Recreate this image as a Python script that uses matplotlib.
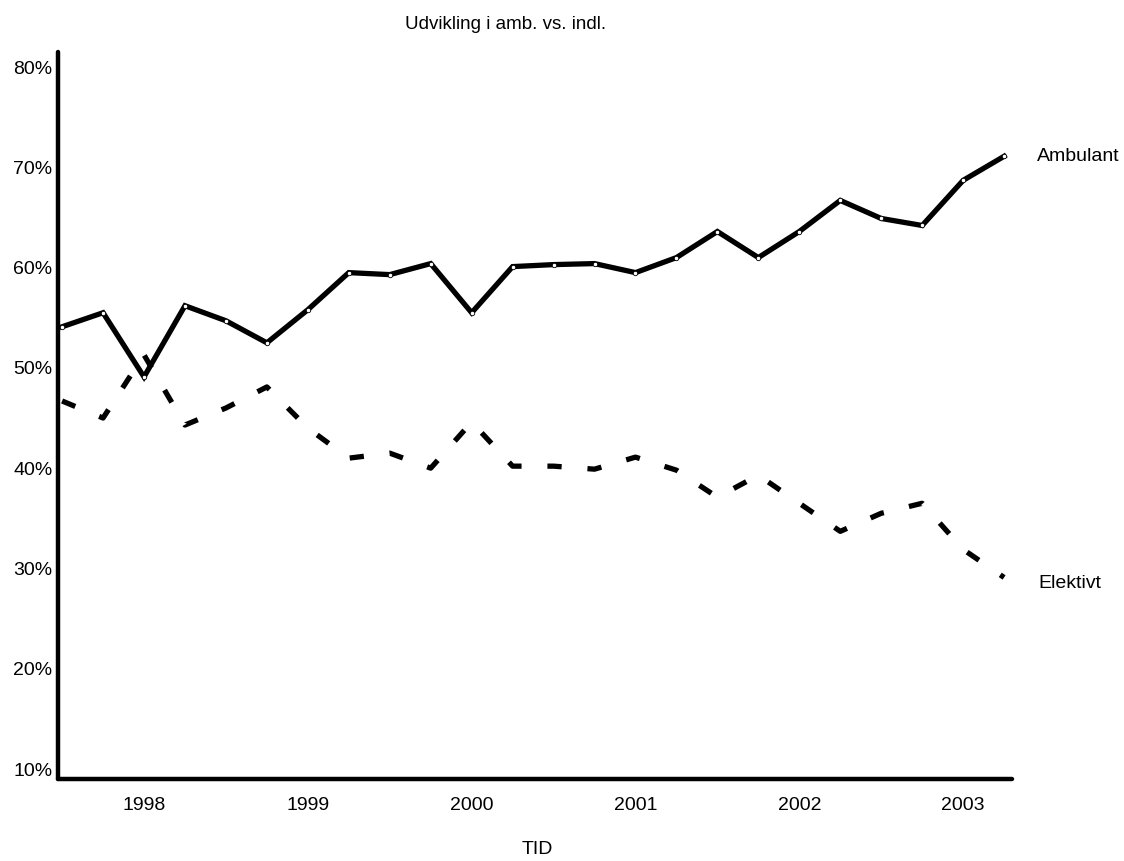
import numpy as np
import matplotlib
matplotlib.use("Agg")
import matplotlib.pyplot as plt

plt.rcParams['font.family'] = ['Liberation Sans', 'DejaVu Sans']

# quarterly shares (%), 1997 Q3 .. 2003 Q2
ambulant = [54.1, 55.5, 49.1, 56.2, 54.7, 52.5, 55.8, 59.5, 59.3, 60.4, 55.5, 60.1,
            60.3, 60.4, 59.5, 61.0, 63.6, 61.0, 63.6, 66.7, 64.9, 64.2, 68.7, 71.1]
elektivt = [46.7, 45.0, 51.3, 44.3, 46.0, 48.1, 44.0, 41.0, 41.5, 40.0, 44.6, 40.2,
            40.2, 39.9, 41.1, 39.8, 37.1, 39.3, 36.5, 33.7, 35.5, 36.5, 31.9, 29.1]
year_labels = ['1998', '1999', '2000', '2001', '2002', '2003']
year_pos = [2, 6, 10, 14, 18, 22]
y_ticks = [10, 20, 30, 40, 50, 60, 70, 80]

x = np.arange(len(ambulant))

fig = plt.figure(figsize=(11.24, 8.61), dpi=100)
ax = fig.add_axes([0.0516, 0.0952, 0.849, 0.8444])

ax.plot(x, ambulant, color='black', lw=3.8, solid_joinstyle='miter',
        marker='o', ms=3.2, mfc='white', mec='black', mew=0.6, zorder=3)
ax.plot(x, elektivt, color='black', lw=3.8, dashes=(2.7, 4.9), zorder=2)

ax.set_xlim(-0.1, 23.2)
ax.set_ylim(9.0, 81.5)

ax.set_yticks(y_ticks)
ax.set_yticklabels([f'{v}%' for v in y_ticks])
ax.set_xticks(year_pos)
ax.set_xticklabels(year_labels)
ax.tick_params(axis='both', length=0, labelsize=14)
ax.tick_params(axis='y', pad=4)
ax.tick_params(axis='x', pad=13)

for side in ['top', 'right']:
    ax.spines[side].set_visible(False)
for side in ['left', 'bottom']:
    ax.spines[side].set_linewidth(3.2)
    ax.spines[side].set_capstyle('round')

ax.annotate('Ambulant', xy=(x[-1], ambulant[-1]), xytext=(24, 0),
            textcoords='offset points', ha='left', va='center', fontsize=14,
            annotation_clip=False)
ax.annotate('Elektivt', xy=(x[-1], elektivt[-1]), xytext=(24.5, -4),
            textcoords='offset points', ha='left', va='center', fontsize=14,
            annotation_clip=False)

fig.text(0.45, 0.972, 'Udvikling i amb. vs. indl.', ha='center', va='center', fontsize=13.5)
fig.text(0.478, 0.003, 'TID', ha='center', va='bottom', fontsize=14)

fig.savefig('out.png', dpi=100)
